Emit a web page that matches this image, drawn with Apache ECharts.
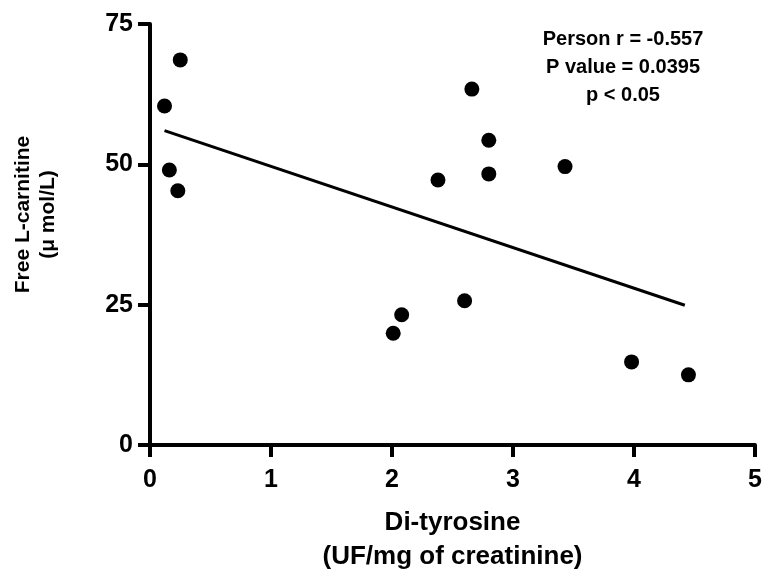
<!DOCTYPE html>
<html>
<head>
<meta charset="utf-8">
<script src="https://cdn.jsdelivr.net/npm/echarts@6/dist/echarts.min.js"></script>
<style>
  html, body { margin: 0; padding: 0; background: #fff; }
  #chart { width: 765px; height: 577px; }
</style>
</head>
<body>
<div id="chart"></div>
<script>
// Di-tyrosine (x) vs free L-carnitine (y)
const diTyrosine = [0.25, 0.12, 0.16, 0.23, 2.66, 2.80, 2.80, 2.38, 3.43, 2.08, 2.01, 2.60, 3.98, 4.45]
const carnitine = [68.6, 60.4, 49.0, 45.3, 63.4, 54.3, 48.3, 47.2, 49.6, 23.2, 19.9, 25.7, 14.8, 12.5]

// linear fit line ends
const fitX = [0.12, 4.42]
const fitY = [56.0, 24.9]

const xTicks = [0, 1, 2, 3, 4, 5]
const yTicks = [0, 25, 50, 75]

const statLines = ['Person r = -0.557', 'P value = 0.0395', 'p < 0.05']

const FONT = 'Liberation Sans, Arial, sans-serif'

const chart = echarts.init(document.getElementById('chart'))

const scatterData = diTyrosine.map((x, i) => [x, carnitine[i]])
const fitData = fitX.map((x, i) => [x, fitY[i]])

const axisCommon = {
    axisLine: { show: true, lineStyle: { color: '#000', width: 4 } },
    axisTick: { show: true, inside: false, length: 12, lineStyle: { color: '#000', width: 4 } },
    splitLine: { show: false },
    axisLabel: {
        color: '#000',
        fontFamily: FONT,
        fontWeight: 'bold',
        fontSize: 25
    },
    nameTextStyle: {
        color: '#000',
        fontFamily: FONT,
        fontWeight: 'bold'
    }
}

chart.setOption({
    animation: false,
    grid: {
        left: 150,
        right: 10,
        top: 24,
        bottom: 132,
        containLabel: false,
        outerBoundsMode: 'none'
    },
    xAxis: {
        type: 'value',
        min: xTicks[0],
        max: xTicks[xTicks.length - 1],
        interval: 1,
        ...axisCommon,
        axisLabel: { ...axisCommon.axisLabel, margin: 23 },
        name: 'Di-tyrosine\n(UF/mg of creatinine)',
        nameLocation: 'middle',
        nameGap: 61,
        nameTextStyle: { ...axisCommon.nameTextStyle, fontSize: 26, lineHeight: 34 }
    },
    yAxis: {
        type: 'value',
        min: yTicks[0],
        max: yTicks[yTicks.length - 1],
        interval: 25,
        ...axisCommon,
        axisLabel: { ...axisCommon.axisLabel, margin: 17 },
        name: 'Free L-carnitine\n(\u03bc mol/L)',
        nameLocation: 'middle',
        nameGap: 89,
        // name sits a little above the axis middle in the original
        nameTextStyle: { ...axisCommon.nameTextStyle, fontSize: 21, lineHeight: 25, padding: [0, 0, 0, 40] }
    },
    graphic: [{
        type: 'text',
        x: 623,
        y: 25,
        style: {
            text: statLines.join('\n'),
            textAlign: 'center',
            fill: '#000',
            font: 'bold 20px ' + FONT,
            lineHeight: 28
        }
    }],
    series: [
        {
            type: 'line',
            data: fitData,
            symbol: 'none',
            lineStyle: { color: '#000', width: 3 },
            z: 2
        },
        {
            type: 'scatter',
            data: scatterData,
            symbol: 'circle',
            symbolSize: 15,
            itemStyle: { color: '#000', opacity: 1 },
            z: 3
        }
    ]
})
</script>
</body>
</html>
